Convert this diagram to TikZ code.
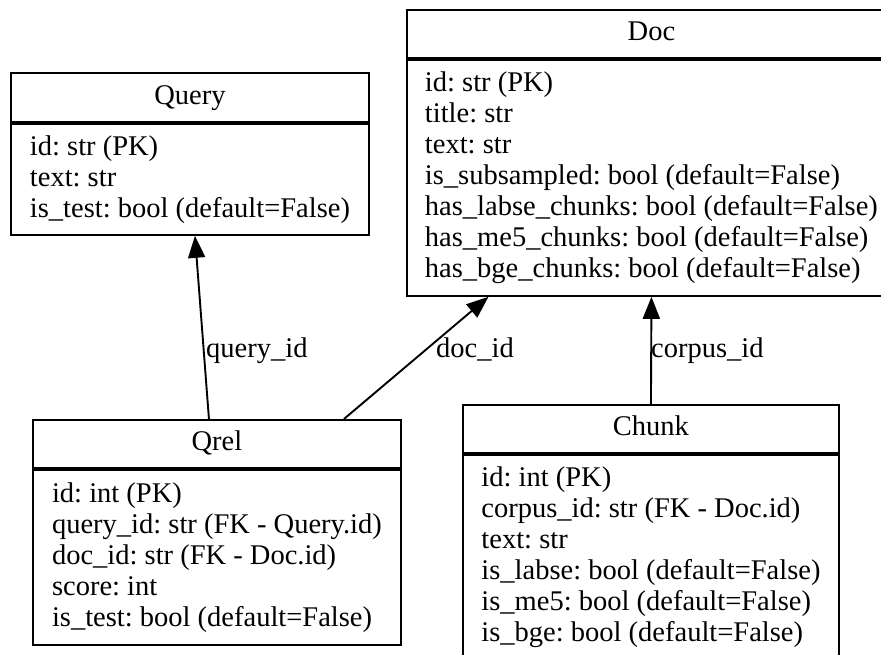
\documentclass[tikz,border=0pt]{standalone}
\usepackage{fontspec}
\setmainfont{Liberation Serif}
\usetikzlibrary{arrows.meta}

\begin{document}
\begin{tikzpicture}[
    x=1pt, y=-1pt,
    every node/.style={font=\fontsize{28.5}{31}\selectfont\frenchspacing},
    enttitle/.style={draw, rectangle, line width=1.9pt, anchor=north west, minimum height=48pt, text height=20pt, text depth=6pt, inner sep=0pt},
    entfields/.style={draw, rectangle, line width=1.9pt, anchor=north west, align=left, inner sep=0pt},
    edgelbl/.style={anchor=base west, inner sep=0pt},
    arrow/.style={-{Triangle[length=22pt,width=17pt]}, line width=1.9pt}
]
    \useasboundingbox (0,0) rectangle (881,655);

    % Query and Doc at the top
    \node[enttitle, minimum width=358pt, minimum height=49pt] (queryT) at (10,72) {Query};
    \node[entfields, minimum width=358pt, minimum height=111pt] (queryF) at (queryT.south west) {id: str (PK)\\text: str\\is\_test: bool (default=False)};

    \node[enttitle, minimum width=489pt] (docT) at (406,9) {Doc};
    \node[entfields, minimum width=489pt, minimum height=236pt] (docF) at (docT.south west) {id: str (PK)\\title: str\\text: str\\is\_subsampled: bool (default=False)\\has\_labse\_chunks: bool (default=False)\\has\_me5\_chunks: bool (default=False)\\has\_bge\_chunks: bool (default=False)};

    % Qrel and Chunk at the bottom
    \node[enttitle, minimum width=368pt] (qrelT) at (32,419) {Qrel};
    \node[entfields, minimum width=368pt, minimum height=175pt] (qrelF) at (qrelT.south west) {id: int (PK)\\query\_id: str (FK - Query.id)\\doc\_id: str (FK - Doc.id)\\score: int\\is\_test: bool (default=False)};

    \node[enttitle, minimum width=376pt] (chunkT) at (462,404) {Chunk};
    \node[entfields, minimum width=376pt, minimum height=205pt] (chunkF) at (chunkT.south west) {id: int (PK)\\corpus\_id: str (FK - Doc.id)\\text: str\\is\_labse: bool (default=False)\\is\_me5: bool (default=False)\\is\_bge: bool (default=False)};

    % Foreign keys
    \draw[arrow] ([xshift=-8pt]qrelT.north) -- ([xshift=5pt]queryF.south);
    \draw[arrow] ([xshift=127pt]qrelT.north) -- ([xshift=-163pt]docF.south);
    \draw[arrow] (chunkT.north) -- (docF.south);

    \node[edgelbl] (qidlbl) at (206,357) {query\_id};
    \node[edgelbl] (didlbl) at (436,357) {doc\_id};
    \node[edgelbl] (cidlbl) at (651,357) {corpus\_id};
\end{tikzpicture}
\end{document}
